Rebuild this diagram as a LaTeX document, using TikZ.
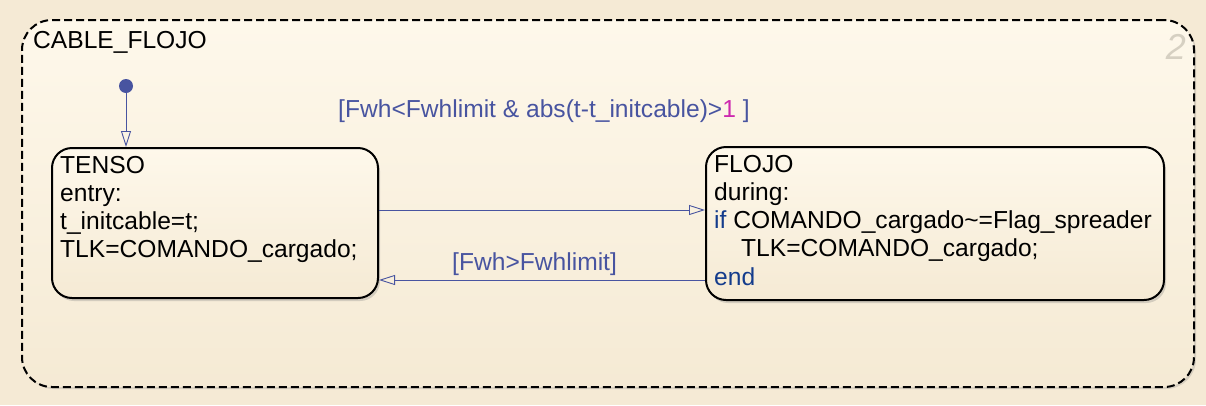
\documentclass[tikz,border=0pt]{standalone}
\usepackage{fontspec}
\setmainfont{Liberation Sans}
\usetikzlibrary{arrows.meta,shadows}
\definecolor{bgout}{RGB}{245,234,213}
\definecolor{boxtop}{RGB}{254,248,235}
\definecolor{boxbot}{RGB}{245,234,212}
\definecolor{trans}{RGB}{72,84,160}
\definecolor{numc}{RGB}{205,40,175}
\definecolor{kw}{RGB}{20,60,140}
\definecolor{greynum}{RGB}{214,208,194}
\begin{document}
\begin{tikzpicture}[x=1pt,y=-1pt,
  container/.style={draw=black, line width=2pt, dash pattern=on 8pt off 4pt,
     rounded corners=30pt, top color=boxtop, bottom color=boxbot,
     drop shadow={opacity=0.25, shadow xshift=2pt, shadow yshift=-2pt},
     inner sep=0pt},
  statebox/.style={draw=black, line width=2pt, rounded corners=20pt,
     top color=boxtop, bottom color=boxbot,
     drop shadow={opacity=0.3, shadow xshift=2pt, shadow yshift=-3pt},
     inner sep=0pt},
  txt/.style={font=\fontsize{24.6}{28}\selectfont, inner sep=0pt, anchor=base west, text=black},
  tlabel/.style={txt, text=trans},
  tr/.style={draw=trans, line width=0.9pt, -{Triangle[open, length=16pt, width=10pt]}}
]
\fill[bgout] (0,0) rectangle (1206,405);
\useasboundingbox (0,0) rectangle (1206,405);

\node[container, minimum width=1172pt, minimum height=367pt] (cable) at (608,203.5) {};
\node[txt] (cname) at (33,48) {CABLE\_FLOJO};
\node[font=\fontsize{36}{36}\selectfont\itshape, text=greynum, inner sep=0pt, anchor=base east] (num) at (1186,59) {2};

\node[statebox, minimum width=326pt, minimum height=150pt] (tenso) at (215,223) {};
\node[statebox, minimum width=458pt, minimum height=153pt] (flojo) at (935,223.5) {};

\node[txt] (t1) at (60,173) {TENSO};
\node[txt] (t2) at (60,201) {entry:};
\node[txt] (t3) at (60,229) {t\_initcable=t;};
\node[txt] (t4) at (60,257) {TLK=COMANDO\_cargado;};

\node[txt] (f1) at (714,172) {FLOJO};
\node[txt] (f2) at (714,200) {during:};
\node[txt] (f3) at (714,228) {\textcolor{kw}{if} COMANDO\_cargado\textasciitilde=Flag\_spreader};
\node[txt] (f4) at (741,256) {TLK=COMANDO\_cargado;};
\node[txt, text=kw] (f5) at (714,285) {end};

\node[circle, fill=trans, minimum size=14pt, inner sep=0pt] (init) at (126,86) {};
\draw[tr] (init) -- (tenso.north -| init);

\draw[tr] (tenso.east |- 0,210) -- (flojo.west |- 0,210);
\draw[tr] (flojo.west |- 0,280) -- (tenso.east |- 0,280);

\node[tlabel] (g1) at (338,117) {[Fwh<Fwhlimit \& abs(t-t\_initcable)>\textcolor{numc}{1} ]};
\node[tlabel] (g2) at (452,270) {[Fwh>Fwhlimit]};
\end{tikzpicture}
\end{document}
